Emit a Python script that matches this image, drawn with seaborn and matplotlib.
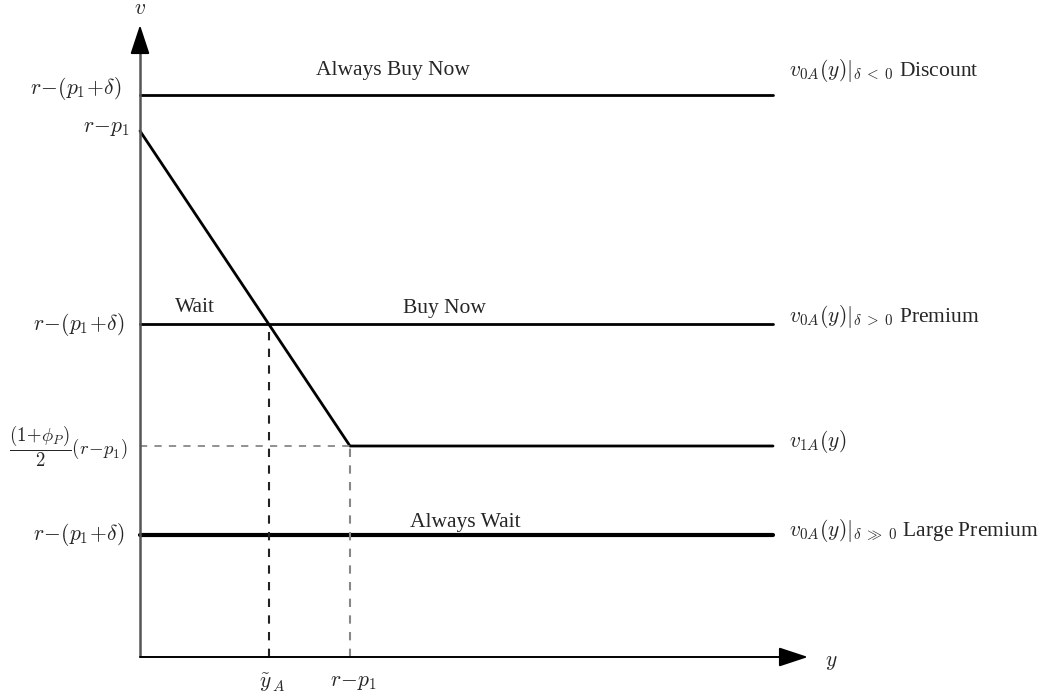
import numpy as np
import pandas as pd
import matplotlib
matplotlib.use("Agg")
import matplotlib.pyplot as plt
import seaborn as sns

# ---- schematic values (abstract units) ----
v_discount = 5.62      # v0A | delta<0
v_intercept = 5.26     # r - p1 on the v axis
v_premium = 3.33       # v0A | delta>0
v_floor = 2.11         # (1+phi_P)/2 (r-p1)
v_large = 1.22         # v0A | delta>>0
y_tilde = 1.29         # y~_A
y_kink = 2.10          # r - p1 on the y axis
y_end = 6.33           # right end of the lines
x_axis_max = 6.68
v_axis_max = 6.32

kinked_x = [0.0, y_kink, y_end]
kinked_v = [v_intercept, v_floor, v_floor]

flat_levels = [v_discount, v_premium, v_large]
flat_widths = [2.0, 2.0, 3.0]

left_labels = [r"$r\!-\!(p_1\!+\!\delta)$", r"$r\!-\!p_1$", r"$r\!-\!(p_1\!+\!\delta)$",
               r"$\dfrac{(1\!+\!\phi_P)}{2}(r\!-\!p_1)$", r"$r\!-\!(p_1\!+\!\delta)$"]
right_labels = [r"$v_{0A}(y)|_{\delta\;<\;0}$ Discount",
                r"$v_{0A}(y)|_{\delta\;>\;0}$ Premium",
                r"$v_{1A}(y)$",
                r"$v_{0A}(y)|_{\delta\;\gg\;0}$ Large Premium"]

sns.set_theme(style="white")
plt.rcParams['font.family'] = ['Liberation Serif', 'DejaVu Serif']
plt.rcParams['mathtext.fontset'] = 'cm'

fig = plt.figure(figsize=(10.5, 7), dpi=100)
ax = fig.add_axes([0, 0, 1, 1])
ax.set_xlim(-1.40, 9.10)
ax.set_ylim(-0.43, 6.57)
ax.axis('off')

# horizontal v0A lines
for lev, w in zip(flat_levels, flat_widths):
    df = pd.DataFrame({"x": [0.0, y_end], "v": [lev, lev]})
    sns.lineplot(data=df, x="x", y="v", ax=ax, color="black", lw=w,
                 estimator=None, sort=False)

# v1A kinked line
sns.lineplot(data=pd.DataFrame({"x": kinked_x, "v": kinked_v}), x="x", y="v",
             ax=ax, color="black", lw=2.0, estimator=None, sort=False)

# dashed guides
ax.vlines(y_tilde, 0, v_premium, colors="#222222", linestyles=(0, (4, 4)), lw=1.5)
ax.vlines(y_kink, 0, v_floor, colors="#888888", linestyles=(0, (4, 4)), lw=1.5)
ax.hlines(v_floor, 0, y_kink, colors="#888888", linestyles=(0, (4, 4)), lw=1.3)

# axes with arrows
ax.annotate("", xy=(x_axis_max, 0), xytext=(0, 0),
            arrowprops=dict(arrowstyle="-|>,head_length=1.0,head_width=0.33",
                            mutation_scale=18, lw=1.4, color="black",
                            shrinkA=0, shrinkB=0))
ax.vlines(0, 0, v_axis_max - 0.15, colors="#555555", lw=1.8)
ax.annotate("", xy=(0, v_axis_max), xytext=(0, v_axis_max - 0.2),
            arrowprops=dict(arrowstyle="-|>,head_length=1.0,head_width=0.33",
                            mutation_scale=18, lw=1.4, color="black",
                            shrinkA=0, shrinkB=0))

fs = 15.5
ax.text(0, v_axis_max + 0.16, r"$v$", ha="center", va="center", fontsize=fs)
ax.text(x_axis_max + 0.17, -0.06, r"$y$", ha="left", va="center", fontsize=fs)

# left labels
left_pos = [v_discount + 0.07, v_intercept + 0.03, v_premium, v_floor, v_large]
left_x = [-0.18, -0.10, -0.15, -0.12, -0.15]
left_fs = [fs, fs, fs, 13.5, fs]
for lab, yy, xx, f in zip(left_labels, left_pos, left_x, left_fs):
    ax.text(xx, yy, lab, ha="right", va="center", fontsize=f)

# right labels
right_pos = [v_discount + 0.25, v_premium + 0.08, v_floor + 0.05, v_large + 0.05]
for lab, yy in zip(right_labels, right_pos):
    ax.text(y_end + 0.16, yy, lab, ha="left", va="center", fontsize=fs)

# bottom labels
ax.text(y_tilde + 0.03, -0.26, r"$\tilde{y}_{\,A}$", ha="center", va="center", fontsize=fs)
ax.text(y_kink + 0.03, -0.26, r"$r\!-\!p_1$", ha="center", va="center", fontsize=fs)

# region labels
ax.text(2.53, v_discount + 0.25, "Always Buy Now", ha="center", va="center", fontsize=fs)
ax.text(0.55, v_premium + 0.16, "Wait", ha="center", va="center", fontsize=fs)
ax.text(3.04, v_premium + 0.16, "Buy Now", ha="center", va="center", fontsize=fs)
ax.text(3.25, v_large + 0.13, "Always Wait", ha="center", va="center", fontsize=fs)

fig.savefig("out.png", dpi=100)
